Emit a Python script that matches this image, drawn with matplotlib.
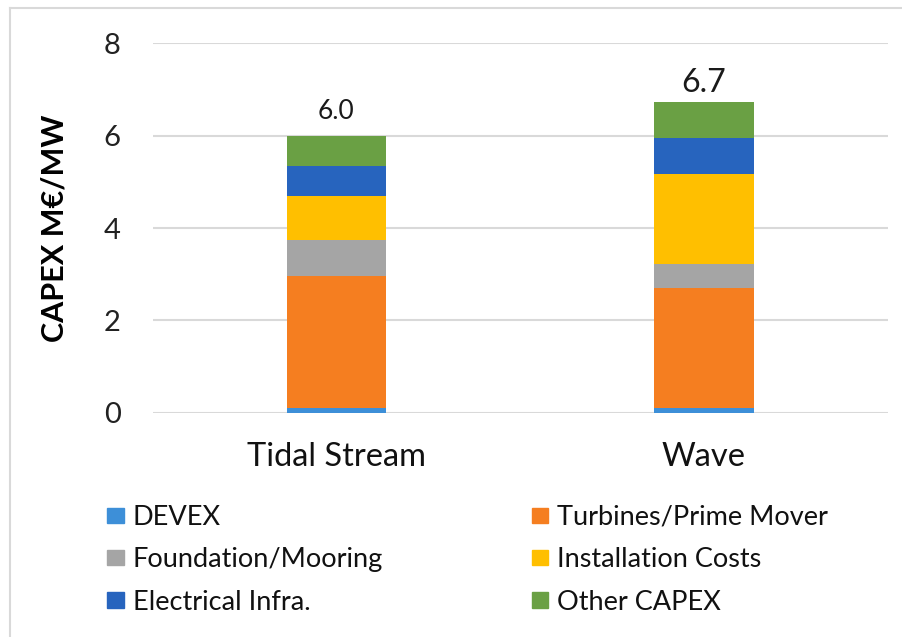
import matplotlib.pyplot as plt
import numpy as np
from matplotlib.patches import Patch

plt.rcParams['font.family'] = ['Lato', 'DejaVu Sans']

technologies = ['Tidal Stream', 'Wave']
components = ['DEVEX', 'Turbines/Prime Mover', 'Foundation/Mooring',
              'Installation Costs', 'Electrical Infra.', 'Other CAPEX']
colors = ['#3D8FD8', '#F57E20', '#A5A5A5', '#FFBF00', '#2764BE', '#6AA044']

# M€/MW per component, stacked bottom to top
devex = [0.10, 0.10]
turbines = [2.86, 2.61]
foundation = [0.79, 0.52]
installation = [0.94, 1.95]
electrical = [0.65, 0.77]
other = [0.66, 0.79]
totals = ['6.0', '6.7']

fig = plt.figure(figsize=(9.03, 6.37), dpi=100)
ax = fig.add_axes([0.169, 0.352, 0.814, 0.58])

x = np.arange(len(technologies))
stack = [devex, turbines, foundation, installation, electrical, other]
bottom = np.zeros(len(technologies))
for vals, name, c in zip(stack, components, colors):
    ax.bar(x, vals, width=0.27, bottom=bottom, color=c, label=name, zorder=3)
    bottom += np.array(vals)

# total labels above each stack
for xi, top, txt, off, fs in zip(x, bottom, totals, [0.36, 0.2], [19, 23]):
    ax.text(xi, top + off, txt, ha='center', va='baseline', fontsize=fs, color='#1a1a1a')

ax.set_xlim(-0.5, 1.5)
ax.set_ylim(0, 8)
ax.set_yticks([0, 2, 4, 6, 8])
ax.set_xticks(x)
ax.set_xticklabels(technologies, fontsize=23.5, color='#111111')
ax.tick_params(axis='y', labelsize=21, colors='#222222', length=0, pad=23)
ax.tick_params(axis='x', length=0, pad=21)
ax.grid(axis='y', color='#D9D9D9', linewidth=1.5, zorder=0)
for s in ax.spines.values():
    s.set_visible(False)
ax.set_ylabel('CAPEX M€/MW', fontsize=22, fontweight='bold')
ax.yaxis.set_label_coords(-0.114, 0.5)

# legend in two columns, row order DEVEX/Turbines, Foundation/Installation, Electrical/Other
order = [0, 2, 4, 1, 3, 5]
handles = [Patch(color=colors[i], label=components[i]) for i in order]
fig.legend(handles=handles, loc='upper left', bbox_to_anchor=(0.098, 0.237),
           ncol=2, frameon=False, fontsize=19.5, handlelength=0.6, handleheight=0.5,
           handletextpad=0.33, columnspacing=5.5, labelspacing=0.64,
           labelcolor='#111111', borderpad=0.2)

# thin frame edges along top and left
fig.add_artist(plt.Line2D([0.011, 1.0], [0.987, 0.987], color='#D9D9D9', lw=1.5))
fig.add_artist(plt.Line2D([0.011, 0.011], [0.0, 0.987], color='#D9D9D9', lw=1.5))

fig.savefig('out.png', dpi=100)
